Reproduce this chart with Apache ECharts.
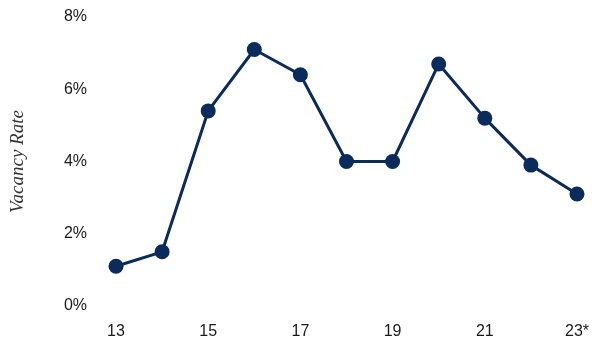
<!DOCTYPE html>
<html style="height: 100%">
<head>
    <meta charset="utf-8">
    <title>Vacancy Rate</title>
</head>
<body style="height: 100%; margin: 0; background: #fff">
    <div id="chart" style="width: 592px; height: 343px;"></div>

    <script src="https://cdn.jsdelivr.net/npm/echarts@6/dist/echarts.min.js"></script>
    <script type="text/javascript">
    var years = ['13', '14', '15', '16', '17', '18', '19', '20', '21', '22', '23*'];
    var vacancy = [1.1, 1.5, 5.4, 7.1, 6.4, 4.0, 4.0, 6.7, 5.2, 3.9, 3.1];

    var navy = '#0a2b5c';

    var option = {
        backgroundColor: '#fff',
        animation: false,
        grid: {
            left: 113,
            right: 15,
            top: 17,
            bottom: 37
        },
        xAxis: {
            type: 'category',
            data: years,
            boundaryGap: false,
            axisLine: { show: false },
            axisTick: { show: false },
            axisLabel: {
                interval: 1,
                margin: 18,
                color: '#1a1a1a',
                fontSize: 16,
                fontFamily: 'Liberation Sans'
            }
        },
        yAxis: {
            type: 'value',
            min: 0,
            max: 8,
            interval: 2,
            name: 'Vacancy Rate',
            nameLocation: 'middle',
            nameGap: 89,
            nameTextStyle: {
                fontFamily: 'Liberation Serif',
                fontStyle: 'italic',
                fontSize: 19,
                color: '#333'
            },
            splitLine: { show: false },
            axisLine: { show: false },
            axisTick: { show: false },
            axisLabel: {
                margin: 29,
                color: '#1a1a1a',
                fontSize: 16,
                fontFamily: 'Liberation Sans',
                formatter: '{value}%'
            }
        },
        series: [{
            type: 'line',
            data: vacancy,
            symbol: 'circle',
            symbolSize: 15,
            lineStyle: { color: navy, width: 3 },
            itemStyle: { color: navy }
        }]
    };

    var myChart = echarts.init(document.getElementById('chart'));
    myChart.setOption(option);
    </script>
</body>
</html>
